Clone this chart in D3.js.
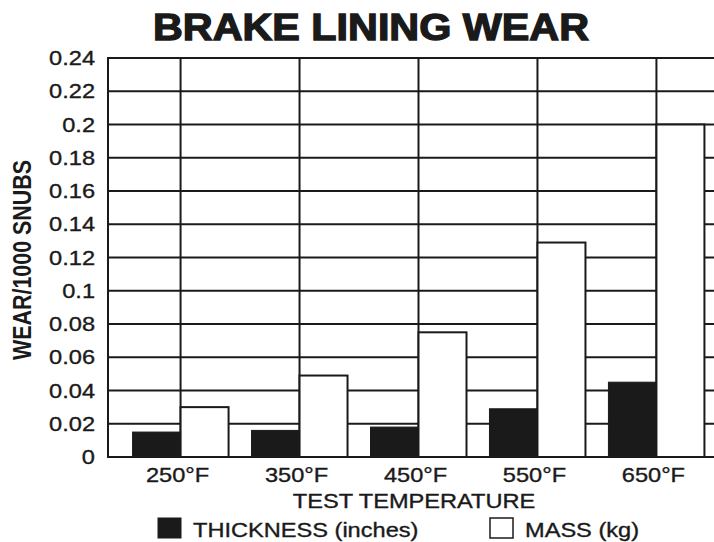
<!DOCTYPE html>
<html>
<head>
<meta charset="utf-8">
<script src="https://cdn.jsdelivr.net/npm/d3@7"></script>
<style>
  html, body { margin: 0; padding: 0; background: #fff; }
  svg { display: block; }
</style>
</head>
<body>
<div id="chart"></div>
<script>
// Brake lining wear chart

const categories = ["250°F", "350°F", "450°F", "550°F", "650°F"];
const thickness = [0.015, 0.016, 0.018, 0.029, 0.045];
const mass = [0.030, 0.049, 0.075, 0.129, 0.200];
const yTicks = [0, 0.02, 0.04, 0.06, 0.08, 0.1, 0.12, 0.14, 0.16, 0.18, 0.2, 0.22, 0.24];
const seriesNames = ["THICKNESS (inches)", "MASS (kg)"];

const width = 714;
const height = 542;
const font = "Liberation Sans, Arial, Helvetica, sans-serif";
const ink = "#1a1a1a";
const stretch = 1.18;   // the printed type is wider than Arial

const margin = { top: 58, left: 108, bottom: 85 };
const plotRight = 729;   // plot runs past the right edge of the picture
const plotBottom = height - margin.bottom;

const svg = d3.select("#chart").append("svg")
    .attr("width", width)
    .attr("height", height);

const x = d3.scalePoint()
    .domain(categories)
    .range([margin.left, plotRight])
    .padding(0.61);

const y = d3.scaleLinear()
    .domain([0, 0.24])
    .range([plotBottom, margin.top]);

const barWidth = 48;

// text with a horizontal stretch
function label(parent, tx, ty, anchor, str) {
    return parent.append("g")
        .attr("transform", `translate(${tx},${ty}) scale(${stretch},1)`)
        .append("text")
        .attr("text-anchor", anchor)
        .attr("font-family", font)
        .attr("font-size", "20px")
        .attr("fill", ink)
        .attr("stroke", ink)
        .attr("stroke-width", 0.35)
        .text(str);
}

// title
svg.append("text")
    .attr("x", 371)
    .attr("y", 40)
    .attr("text-anchor", "middle")
    .attr("textLength", 436)
    .attr("lengthAdjust", "spacingAndGlyphs")
    .attr("font-family", font)
    .attr("font-weight", "bold")
    .attr("font-size", "36px")
    .attr("fill", ink)
    .attr("stroke", ink)
    .attr("stroke-width", 1.3)
    .text("BRAKE LINING WEAR");

// horizontal grid
svg.append("g")
    .selectAll("line")
    .data(yTicks)
    .join("line")
    .attr("x1", margin.left)
    .attr("x2", plotRight)
    .attr("y1", d => y(d))
    .attr("y2", d => y(d))
    .attr("stroke", ink)
    .attr("stroke-width", 2);

// vertical grid at category centres
svg.append("g")
    .selectAll("line")
    .data(categories)
    .join("line")
    .attr("x1", d => x(d))
    .attr("x2", d => x(d))
    .attr("y1", margin.top)
    .attr("y2", plotBottom)
    .attr("stroke", ink)
    .attr("stroke-width", 2);

// left axis line
svg.append("line")
    .attr("x1", margin.left)
    .attr("x2", margin.left)
    .attr("y1", margin.top - 1)
    .attr("y2", plotBottom + 1)
    .attr("stroke", ink)
    .attr("stroke-width", 2);

// bars
const bars = svg.append("g");

bars.selectAll("rect.mass")
    .data(categories)
    .join("rect")
    .attr("class", "mass")
    .attr("x", d => x(d))
    .attr("y", (d, i) => y(mass[i]))
    .attr("width", barWidth)
    .attr("height", (d, i) => y(0) - y(mass[i]))
    .attr("fill", "#fff")
    .attr("stroke", ink)
    .attr("stroke-width", 2);

bars.selectAll("rect.thick")
    .data(categories)
    .join("rect")
    .attr("class", "thick")
    .attr("x", d => x(d) - barWidth)
    .attr("y", (d, i) => y(thickness[i]))
    .attr("width", barWidth)
    .attr("height", (d, i) => y(0) - y(thickness[i]))
    .attr("fill", ink)
    .attr("stroke", ink)
    .attr("stroke-width", 1);

// y tick labels
const yLabels = svg.append("g");
yTicks.forEach(t => {
    label(yLabels, 95, y(t) + 7, "end", t === 0 ? "0" : String(t));
});

// x tick labels
const xLabels = svg.append("g");
categories.forEach(c => {
    label(xLabels, x(c) - 3, 482, "middle", c);
});

// axis titles
label(svg, 414, 508, "middle", "TEST TEMPERATURE");

svg.append("g")
    .attr("transform", "translate(31, 260) scale(1.2,1) rotate(-90)")
    .append("text")
    .attr("text-anchor", "middle")
    .attr("textLength", 200)
    .attr("lengthAdjust", "spacingAndGlyphs")
    .attr("font-family", font)
    .attr("font-weight", "bold")
    .attr("font-size", "21px")
    .attr("fill", ink)
    .text("WEAR/1000 SNUBS");

// legend
const legendX = [158, 490];
const legend = svg.append("g");

seriesNames.forEach((name, i) => {
    legend.append("rect")
        .attr("x", legendX[i])
        .attr("y", 518)
        .attr("width", 23)
        .attr("height", 20)
        .attr("fill", i === 0 ? ink : "#fff")
        .attr("stroke", ink)
        .attr("stroke-width", i === 0 ? 1 : 1.5);

    label(legend, legendX[i] + 35, 537, "start", name);
});
</script>
</body>
</html>
